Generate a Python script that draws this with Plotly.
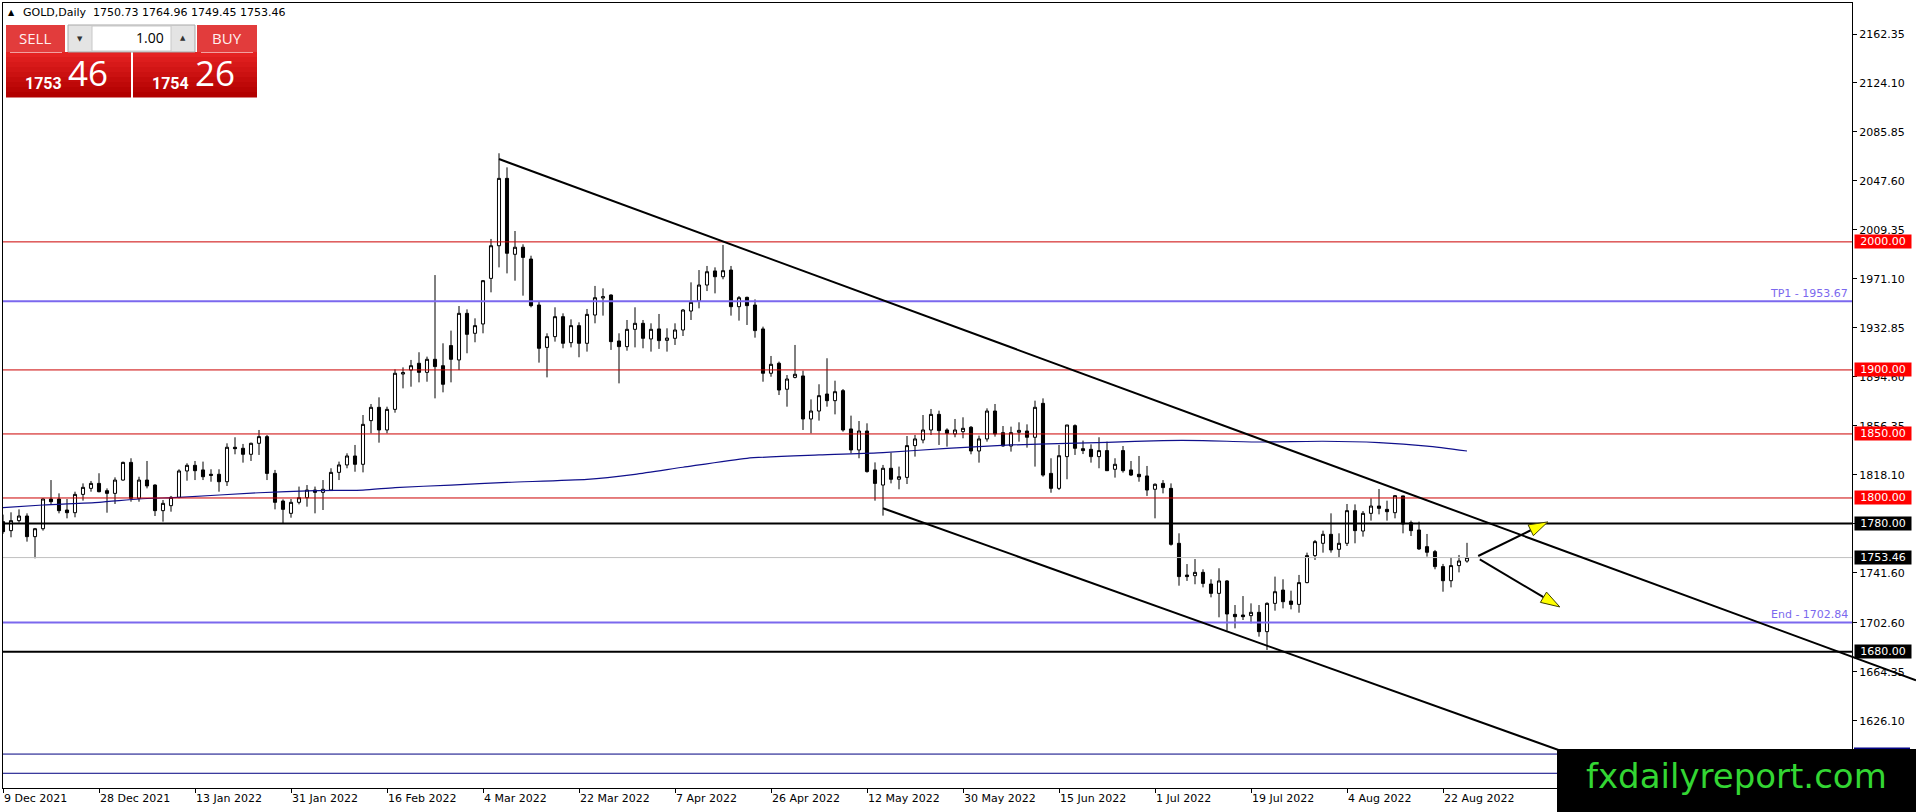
import plotly.graph_objects as go

# ---------------- data ----------------
tick_labels = ["9 Dec 2021", "28 Dec 2021", "13 Jan 2022", "31 Jan 2022", "16 Feb 2022",
               "4 Mar 2022", "22 Mar 2022", "7 Apr 2022", "26 Apr 2022", "12 May 2022",
               "30 May 2022", "15 Jun 2022", "1 Jul 2022", "19 Jul 2022", "4 Aug 2022",
               "22 Aug 2022"]
tick_step = 12

opens = [1781.5, 1774.5, 1782.3, 1785.9, 1769.8, 1776.0, 1799.2, 1799.2, 1790.6, 1788.5,
         1802.8, 1807.5, 1811.4, 1805.7, 1803.6, 1814.0, 1827.8, 1799.7, 1814.0, 1810.1,
         1790.1, 1794.0, 1800.5, 1821.1, 1825.5, 1821.9, 1818.5, 1818.5, 1812.7, 1839.6,
         1838.8, 1834.1, 1842.7, 1847.9, 1819.2, 1797.6, 1788.0, 1796.6, 1800.2, 1806.2,
         1804.4, 1806.2, 1820.0, 1825.8, 1832.8, 1826.3, 1860.4, 1870.8, 1853.1, 1869.2,
         1896.8, 1899.9, 1905.2, 1898.1, 1908.3, 1903.3, 1919.0, 1907.8, 1944.2, 1928.6,
         1935.9, 1971.5, 1997.0, 2049.6, 1990.3, 1995.8, 1986.6, 1950.7, 1917.6, 1926.0,
         1941.6, 1921.3, 1934.6, 1920.8, 1942.9, 1956.2, 1958.5, 1922.6, 1918.2, 1931.7,
         1936.4, 1924.2, 1932.0, 1923.1, 1924.7, 1931.2, 1946.0, 1953.8, 1966.3, 1977.3,
         1972.8, 1978.0, 1949.4, 1956.7, 1950.7, 1932.0, 1897.4, 1905.2, 1884.9, 1894.2,
         1895.3, 1861.7, 1867.9, 1881.2, 1876.0, 1883.8, 1853.9, 1837.5, 1852.3, 1821.9,
         1810.1, 1823.2, 1814.6, 1816.1, 1840.9, 1845.3, 1853.1, 1865.3, 1853.1, 1850.0,
         1851.8, 1855.2, 1836.7, 1846.1, 1867.9, 1851.0, 1840.6, 1851.3, 1852.3, 1847.4,
         1873.9, 1819.2, 1807.5, 1832.3, 1856.5, 1838.5, 1838.0, 1832.3, 1837.0, 1822.4,
         1837.0, 1821.9, 1818.5, 1817.2, 1806.8, 1811.4, 1807.5, 1764.6, 1739.8, 1739.3,
         1741.9, 1732.8, 1725.5, 1735.2, 1709.1, 1708.6, 1708.1, 1710.7, 1695.6, 1717.7,
         1728.1, 1719.5, 1716.9, 1733.9, 1755.0, 1764.6, 1771.6, 1759.9, 1764.6, 1790.1,
         1774.2, 1788.0, 1793.7, 1791.1, 1788.5, 1801.6, 1780.7, 1775.0, 1762.0, 1758.1,
         1746.4, 1735.4, 1747.2, 1750.73]
highs = [1787.0, 1788.8, 1791.1, 1788.0, 1776.6, 1799.7, 1814.0, 1803.6, 1799.2, 1804.9,
         1811.4, 1813.3, 1819.3, 1807.5, 1816.1, 1828.4, 1831.0, 1816.6, 1828.9, 1810.7,
         1798.4, 1801.6, 1822.4, 1827.1, 1828.9, 1828.4, 1822.4, 1822.4, 1842.7, 1847.4,
         1842.2, 1843.2, 1853.1, 1849.2, 1821.9, 1798.9, 1799.2, 1808.9, 1810.1, 1808.9,
         1814.0, 1823.2, 1828.4, 1834.9, 1841.4, 1864.8, 1873.4, 1878.6, 1871.3, 1900.5,
         1902.0, 1907.8, 1913.8, 1910.4, 1974.1, 1920.8, 1930.7, 1949.9, 1947.3, 1940.3,
         1970.2, 2002.3, 2069.2, 2058.2, 2008.5, 1998.1, 1989.2, 1953.3, 1928.6, 1948.9,
         1944.2, 1939.5, 1937.2, 1947.6, 1965.6, 1963.7, 1959.0, 1928.6, 1939.0, 1948.9,
         1939.0, 1936.4, 1943.7, 1932.5, 1936.4, 1947.6, 1968.4, 1978.0, 1981.2, 1980.1,
         1997.6, 1981.2, 1957.7, 1957.2, 1955.1, 1933.8, 1910.9, 1906.5, 1896.0, 1919.5,
         1899.4, 1877.0, 1888.8, 1909.1, 1891.6, 1885.1, 1864.3, 1860.1, 1858.3, 1827.8,
         1825.8, 1835.4, 1824.5, 1848.4, 1849.2, 1864.8, 1869.5, 1868.2, 1854.4, 1861.7,
         1863.0, 1856.2, 1848.7, 1870.0, 1873.4, 1856.2, 1855.7, 1859.1, 1857.5, 1876.0,
         1877.8, 1831.0, 1841.4, 1857.0, 1857.5, 1844.8, 1841.9, 1847.4, 1844.0, 1831.0,
         1840.6, 1828.9, 1832.8, 1825.0, 1811.4, 1814.0, 1811.4, 1772.4, 1748.4, 1752.3,
         1744.3, 1736.5, 1745.1, 1735.9, 1716.4, 1723.4, 1717.7, 1716.4, 1718.5, 1738.6,
         1736.5, 1727.6, 1739.9, 1757.3, 1767.2, 1774.5, 1788.0, 1772.4, 1795.3, 1795.0,
         1789.8, 1799.7, 1807.0, 1797.9, 1802.3, 1801.8, 1782.3, 1781.5, 1771.9, 1759.4,
         1748.5, 1753.7, 1755.5, 1764.96]
lows = [1772.0, 1769.3, 1780.7, 1765.9, 1752.9, 1774.5, 1794.5, 1788.0, 1784.1, 1784.9,
        1797.9, 1804.9, 1804.4, 1788.5, 1795.3, 1813.5, 1797.1, 1797.1, 1807.5, 1785.9,
        1781.5, 1789.3, 1799.7, 1813.5, 1814.0, 1814.0, 1812.7, 1804.9, 1809.4, 1834.1,
        1827.6, 1828.9, 1833.6, 1814.0, 1791.1, 1779.7, 1784.6, 1795.0, 1793.2, 1788.0,
        1790.6, 1806.2, 1814.0, 1823.2, 1820.5, 1820.0, 1850.5, 1843.2, 1850.5, 1866.6,
        1885.6, 1886.9, 1890.3, 1890.8, 1877.8, 1882.5, 1890.3, 1899.9, 1913.0, 1921.6,
        1928.6, 1960.6, 1980.1, 1975.4, 1969.7, 1958.0, 1948.9, 1905.7, 1894.2, 1922.1,
        1916.9, 1917.6, 1909.9, 1914.3, 1936.4, 1942.4, 1915.6, 1889.5, 1915.0, 1917.6,
        1916.9, 1914.3, 1916.4, 1914.3, 1919.5, 1926.5, 1939.0, 1948.1, 1961.6, 1959.8,
        1970.8, 1942.4, 1938.5, 1935.1, 1925.2, 1890.8, 1894.7, 1880.4, 1871.3, 1893.4,
        1853.1, 1850.5, 1860.4, 1871.3, 1865.3, 1851.8, 1834.9, 1831.0, 1819.8, 1797.9,
        1786.2, 1811.4, 1806.8, 1810.9, 1832.3, 1842.7, 1849.2, 1841.4, 1840.1, 1847.4,
        1846.6, 1834.1, 1827.6, 1844.0, 1847.9, 1840.1, 1836.2, 1844.0, 1839.3, 1824.5,
        1816.6, 1804.1, 1806.2, 1814.6, 1833.6, 1834.3, 1827.6, 1823.2, 1821.3, 1815.9,
        1819.8, 1817.2, 1812.7, 1801.6, 1784.1, 1803.6, 1762.8, 1731.5, 1735.2, 1732.6,
        1730.2, 1722.4, 1706.8, 1696.4, 1698.2, 1704.7, 1702.1, 1691.7, 1681.3, 1712.0,
        1713.8, 1713.0, 1710.4, 1733.4, 1751.6, 1757.3, 1757.3, 1753.7, 1762.5, 1764.6,
        1769.8, 1782.3, 1787.2, 1782.3, 1784.1, 1772.4, 1770.3, 1759.4, 1754.2, 1744.3,
        1726.8, 1730.2, 1741.9, 1749.45]
closes = [1773.7, 1782.3, 1785.9, 1769.8, 1776.0, 1799.2, 1797.1, 1790.1, 1788.5, 1802.8,
          1808.3, 1811.4, 1804.9, 1803.6, 1814.0, 1827.8, 1799.7, 1814.0, 1809.4, 1790.1,
          1795.8, 1800.5, 1821.1, 1825.5, 1821.3, 1816.6, 1817.7, 1812.7, 1839.6, 1838.5,
          1834.1, 1842.7, 1847.9, 1819.2, 1796.6, 1791.1, 1796.6, 1800.2, 1806.2, 1804.4,
          1806.8, 1820.0, 1825.8, 1832.8, 1826.3, 1857.5, 1870.8, 1853.1, 1869.2, 1897.4,
          1897.9, 1903.3, 1898.1, 1908.3, 1902.6, 1888.8, 1908.3, 1944.2, 1927.8, 1934.6,
          1969.7, 1997.0, 2049.6, 1991.1, 1995.8, 1987.9, 1950.2, 1916.9, 1926.0, 1941.6,
          1920.8, 1934.6, 1920.8, 1943.4, 1956.4, 1957.2, 1922.1, 1918.2, 1931.7, 1936.4,
          1924.7, 1931.7, 1922.9, 1924.9, 1931.2, 1946.8, 1952.8, 1966.3, 1976.7, 1972.8,
          1977.5, 1949.4, 1956.4, 1950.2, 1930.7, 1897.4, 1904.4, 1884.3, 1892.9, 1896.6,
          1861.7, 1867.9, 1879.9, 1876.0, 1883.0, 1853.1, 1837.5, 1852.3, 1820.6, 1811.4,
          1823.2, 1814.6, 1816.6, 1840.9, 1846.1, 1853.1, 1865.3, 1852.6, 1850.5, 1853.1,
          1854.4, 1836.7, 1846.1, 1867.9, 1850.0, 1840.6, 1851.0, 1852.8, 1847.4, 1870.8,
          1817.9, 1807.5, 1833.0, 1857.0, 1838.8, 1837.0, 1832.3, 1837.0, 1821.3, 1826.3,
          1821.3, 1817.9, 1816.6, 1806.2, 1810.7, 1808.1, 1763.8, 1738.6, 1738.6, 1741.9,
          1733.3, 1725.5, 1735.2, 1709.4, 1707.3, 1707.3, 1710.7, 1695.6, 1717.7, 1726.8,
          1719.0, 1716.9, 1733.9, 1755.0, 1765.9, 1771.6, 1759.4, 1764.6, 1790.1, 1774.5,
          1788.0, 1793.7, 1791.9, 1789.3, 1801.8, 1779.7, 1774.5, 1760.2, 1757.6, 1746.4,
          1735.4, 1747.2, 1750.8, 1753.46]

ma_bars = [0, 5, 12, 17, 22, 32, 39, 45, 49, 56, 63, 73, 79, 85, 93, 102, 110, 118, 126,
           133, 138, 145, 150, 157, 165, 172, 178, 183]
ma_vals = [1792.4, 1794.5, 1796.6, 1799.2, 1800.5, 1804.1, 1805.7, 1806.2, 1808.1, 1810.1,
           1812.2, 1814.5, 1818.5, 1824.0, 1831.0, 1833.6, 1835.4, 1838.8, 1841.4, 1842.7,
           1843.5, 1844.8, 1844.8, 1843.7, 1844.3, 1843.2, 1840.5, 1836.7]

y_tick_vals = [2162.35, 2124.10, 2085.85, 2047.60, 2009.35, 1971.10, 1932.85, 1894.60,
               1856.35, 1818.10, 1779.85, 1741.60, 1702.60, 1664.35, 1626.10]

red_levels = [2000.00, 1900.00, 1850.00, 1800.00]
black_levels = [1780.00, 1680.00]
target_levels = [("TP1", 1953.67), ("End", 1702.84)]
bid_level = 1753.46
navy_levels = [1600.00, 1585.00]

# trend lines: two anchor points (bar, price) each
upper_trend = [(62, 2064.7), (229.4, 1680.0)]
lower_trend = [(110, 1792.0), (194.25, 1603.6)]
# arrows: (start, tip)
arrows = [((184.4, 1754.7), (193.1, 1781.3)), ((184.6, 1752.1), (194.6, 1714.9))]

header = "GOLD,Daily  1750.73 1764.96 1749.45 1753.46"
sell_price = ("1753", "46")
buy_price = ("1754", "26")
volume = "1.00"
watermark = "fxdailyreport.com"

# ---------------- geometry ----------------
W, H = 1916, 812
PL, PR, PT, PB = 3, 1852, 3, 788
BAR_PX = 8
XR = [0, (PR - PL) / BAR_PX]
YR = [1573.5, 2186.56]


def d2px(b, p):
    x = PL + (b - XR[0]) / (XR[1] - XR[0]) * (PR - PL)
    y = PT + (YR[1] - p) / (YR[1] - YR[0]) * (PB - PT)
    return x, y


def px2paper(x, y):
    return (x - PL) / (PR - PL), (PB - y) / (PB - PT)


bars = list(range(len(opens)))
tick_bars = [i * tick_step for i in range(len(tick_labels))]

fig = go.Figure()
fig.add_trace(go.Candlestick(
    x=bars, open=opens, high=highs, low=lows, close=closes,
    increasing=dict(line=dict(color="black", width=1), fillcolor="white"),
    decreasing=dict(line=dict(color="black", width=1), fillcolor="black"),
    whiskerwidth=0, hoverinfo="skip", showlegend=False))
fig.add_trace(go.Scatter(
    x=ma_bars, y=ma_vals, mode="lines",
    line=dict(color="#10108c", width=1.2, shape="spline", smoothing=0.6),
    hoverinfo="skip", showlegend=False))

shapes = []
annotations = []


def hline(y, color, width):
    shapes.append(dict(type="line", xref="paper", yref="y", x0=0, x1=1, y0=y, y1=y,
                       line=dict(color=color, width=width), layer="above"))


for v in red_levels:
    hline(v, "#cc0000", 1)
for name, v in target_levels:
    hline(v, "#7b68ee", 2)
    annotations.append(dict(xref="paper", yref="y", x=1, y=v, xanchor="right", yanchor="bottom",
                            xshift=-2, yshift=-1, text=f"{name} - {v:.2f}", showarrow=False,
                            font=dict(family="DejaVu Sans", size=11, color="#7b68ee")))
for v in black_levels:
    hline(v, "black", 2)
hline(bid_level, "#c0c0c0", 1)
for v in navy_levels:
    hline(v, "#000080", 1)


def ray(pts, width):
    (b0, p0), (b1, p1) = pts
    slope = (p1 - p0) / (b1 - b0)
    x_end_px = W
    b_end = XR[0] + (x_end_px - PL) / (PR - PL) * (XR[1] - XR[0])
    p_end = p0 + slope * (b_end - b0)
    xa, ya = px2paper(*d2px(b0, p0))
    xb, yb = px2paper(*d2px(b_end, p_end))
    shapes.append(dict(type="line", xref="paper", yref="paper", x0=xa, y0=ya, x1=xb, y1=yb,
                       line=dict(color="black", width=width), layer="above"))


ray(upper_trend, 2)
ray(lower_trend, 2)

# arrows
for (s, t) in arrows:
    sx, sy = d2px(*s)
    tx, ty = d2px(*t)
    dx, dy = tx - sx, ty - sy
    ln = (dx * dx + dy * dy) ** 0.5
    ux, uy = dx / ln, dy / ln
    nx, ny = -uy, ux
    L, Wd = 19, 6
    bx, by = tx - L * ux, ty - L * uy
    a = px2paper(sx, sy)
    b = px2paper(bx, by)
    shapes.append(dict(type="line", xref="paper", yref="paper", x0=a[0], y0=a[1], x1=b[0], y1=b[1],
                       line=dict(color="black", width=2), layer="above"))
    p1 = px2paper(tx, ty)
    p2 = px2paper(bx + Wd * nx, by + Wd * ny)
    p3 = px2paper(bx - Wd * nx, by - Wd * ny)
    path = f"M {p1[0]} {p1[1]} L {p2[0]} {p2[1]} L {p3[0]} {p3[1]} Z"
    shapes.append(dict(type="path", xref="paper", yref="paper", path=path,
                       fillcolor="#ffff00", line=dict(color="#404000", width=1), layer="above"))


# ---------------- trading widget (pixel layout) ----------------
def rect(x0, y0, x1, y1, fill, line_color=None, lw=0):
    a = px2paper(x0, y0)
    b = px2paper(x1, y1)
    shapes.append(dict(type="rect", xref="paper", yref="paper", x0=a[0], y0=b[1], x1=b[0], y1=a[1],
                       fillcolor=fill, line=dict(color=line_color or fill, width=lw), layer="above"))


def seg(x0, y0, x1, y1, color, lw=1):
    a = px2paper(x0, y0)
    b = px2paper(x1, y1)
    shapes.append(dict(type="line", xref="paper", yref="paper", x0=a[0], y0=a[1], x1=b[0], y1=b[1],
                       line=dict(color=color, width=lw), layer="above"))


def text(x, y, s, size, color="black", family="DejaVu Sans", xanchor="left", yanchor="middle", **kw):
    px, py = px2paper(x, y)
    annotations.append(dict(xref="paper", yref="paper", x=px, y=py, xanchor=xanchor, yanchor=yanchor,
                            text=s, showarrow=False, font=dict(family=family, size=size, color=color), **kw))


# header
text(6, 13, "▲", 8)
text(21, 13, header, 11)

# buttons
rect(6, 25, 65, 52, "#e23c3c")
rect(197, 25, 257, 52, "#e23c3c")
# lower gradient boxes
steps = 9
top_c, bot_c = (228, 34, 34), (178, 0, 0)
for k in range(steps):
    f = k / (steps - 1)
    c = tuple(int(top_c[j] + (bot_c[j] - top_c[j]) * f) for j in range(3))
    col = f"rgb({c[0]},{c[1]},{c[2]})"
    y0 = 52 + k * 45 / steps
    y1 = 52 + (k + 1) * 45 / steps + 0.5
    rect(6, y0, 131, y1, col)
    rect(133, y0, 257, y1, col)
seg(10, 52.5, 62, 52.5, "#f2a0a0")
seg(201, 52.5, 253, 52.5, "#f2a0a0")
# volume spinner
rect(68, 25, 195, 52, "#e4e4e4", "#a8a8a8", 1)
rect(92, 26, 171, 51, "white", "#c8c8c8", 1)
text(80, 39, "▼", 7, color="#333333", xanchor="center")
text(183, 38, "▲", 7, color="#333333", xanchor="center")
text(166, 38, volume, 14, family="Open Sans", xanchor="right")
text(35, 38, "SELL", 15, color="#fff0f0", family="Open Sans", xanchor="center")
text(227, 38, "BUY", 15, color="#fff0f0", family="Open Sans", xanchor="center")
# prices
text(64, 84, f"<b>{sell_price[0]}</b>", 16, color="white", family="Roboto", xanchor="right")
text(66, 73, sell_price[1], 35, color="white", family="Open Sans")
text(191, 84, f"<b>{buy_price[0]}</b>", 16, color="white", family="Roboto", xanchor="right")
text(193, 73, buy_price[1], 35, color="white", family="Open Sans")


# price labels on the axis
def axis_label(v, bg):
    annotations.append(dict(xref="paper", yref="y", x=1, y=v, xanchor="left", yanchor="middle",
                            xshift=2, width=56, height=13, borderpad=0, bgcolor=bg,
                            text=f"{v:.2f}", showarrow=False, align="center",
                            font=dict(family="DejaVu Sans", size=11, color="white")))


for v in red_levels:
    axis_label(v, "#ff0000")
for v in black_levels:
    axis_label(v, "black")
axis_label(bid_level, "black")

# navy price label of the 1600 line (almost fully hidden by the watermark)
nx0, ny0 = d2px(0, navy_levels[0])
rect(PR + 2, ny0 - 6.5, PR + 58, ny0 + 6.5, "#000080")

# watermark: black box drawn as the last shape (over trend lines), text on top
rect(1557, 749, W + 2, H + 2, "black")
wx, wy = px2paper((1557 + W) / 2, 776)
annotations.append(dict(xref="paper", yref="paper", x=wx, y=wy, xanchor="center", yanchor="middle",
                        text=watermark, showarrow=False, bgcolor="black", borderpad=0,
                        font=dict(family="DejaVu Sans", size=34, color="#33d633")))

fig.update_layout(
    width=W, height=H, autosize=False,
    margin=dict(l=PL, r=W - PR, t=PT, b=H - PB, pad=0),
    paper_bgcolor="white", plot_bgcolor="white",
    showlegend=False, boxgap=0.45,
    shapes=shapes, annotations=annotations,
    xaxis=dict(range=XR, tickvals=tick_bars, ticktext=tick_labels, ticks="outside", ticklen=4,
               tickcolor="black", showline=True, mirror=True, linecolor="black", linewidth=1,
               showgrid=False, zeroline=False, rangeslider=dict(visible=False),
               ticklabelposition="outside right", fixedrange=True,
               tickfont=dict(family="DejaVu Sans", size=11, color="black")),
    yaxis=dict(range=YR, side="right", tickvals=y_tick_vals,
               ticktext=[f"{v:.2f}" for v in y_tick_vals], ticks="outside", ticklen=4,
               tickcolor="black", showline=True, mirror=True, linecolor="black", linewidth=1,
               showgrid=False, zeroline=False, fixedrange=True,
               tickfont=dict(family="DejaVu Sans", size=11, color="black")),
)

fig.write_html("out.html", config={"displayModeBar": False},
               post_script="document.body.style.margin='0';document.body.style.overflow='hidden';")
